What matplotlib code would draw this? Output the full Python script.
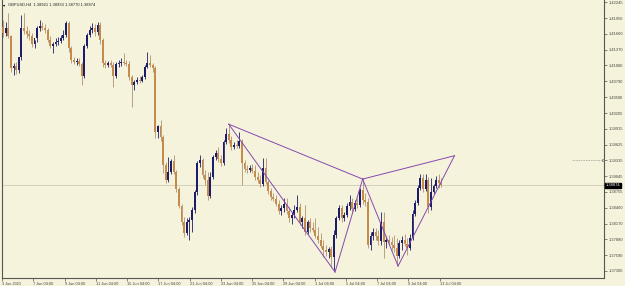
import matplotlib
matplotlib.use("Agg")
import matplotlib.pyplot as plt
import numpy as np

plt.rcParams['font.family'] = ['Liberation Sans', 'DejaVu Sans']

# ---------------- data (GBPUSD, H4) ----------------
opens = [1.4179,1.4168,1.4177,1.4162,1.4103,1.4107,1.4100,1.4124,1.4177,1.4171,
         1.4166,1.4162,1.4148,1.4159,1.4177,1.4181,1.4177,1.4173,1.4155,1.4144,
         1.4148,1.4151,1.4153,1.4159,1.4164,1.4186,1.4140,1.4118,1.4114,1.4116,
         1.4111,1.4089,1.4144,1.4164,1.4173,1.4177,1.4170,1.4182,1.4155,1.4113,
         1.4109,1.4113,1.4109,1.4089,1.4111,1.4113,1.4114,1.4113,1.4111,1.4087,
         1.4072,1.4078,1.4081,1.4079,1.4087,1.4105,1.4113,1.4109,1.4103,1.3986,
         1.3997,1.3976,1.3925,1.3897,1.3912,1.3932,1.3912,1.3881,1.3850,1.3820,
         1.3800,1.3820,1.3824,1.3842,1.3875,1.3929,1.3934,1.3907,1.3897,1.3868,
         1.3903,1.3940,1.3947,1.3936,1.3929,1.3967,1.3982,1.3971,1.3958,1.3962,
         1.3960,1.3969,1.3929,1.3918,1.3916,1.3920,1.3914,1.3903,1.3897,1.3890,
         1.3920,1.3894,1.3877,1.3866,1.3862,1.3853,1.3840,1.3846,1.3853,1.3840,
         1.3827,1.3833,1.3842,1.3848,1.3820,1.3827,1.3802,1.3820,1.3809,1.3805,
         1.3794,1.3787,1.3776,1.3769,1.3765,1.3770,1.3756,1.3796,1.3827,1.3846,
         1.3827,1.3833,1.3850,1.3857,1.3844,1.3855,1.3851,1.3879,1.3861,1.3857,
         1.3778,1.3794,1.3802,1.3794,1.3785,1.3820,1.3783,1.3787,1.3783,1.3778,
         1.3772,1.3758,1.3781,1.3787,1.3780,1.3772,1.3791,1.3835,1.3855,1.3883,
         1.3901,1.3881,1.3897,1.3848,1.3875,1.3886,1.3897,1.3892]
highs = [1.4192,1.4188,1.4205,1.4164,1.4113,1.4114,1.4118,1.4201,1.4205,1.4181,
         1.4173,1.4168,1.4155,1.4181,1.4192,1.4188,1.4184,1.4177,1.4162,1.4151,
         1.4159,1.4160,1.4164,1.4173,1.4190,1.4190,1.4144,1.4124,1.4122,1.4122,
         1.4114,1.4148,1.4168,1.4181,1.4186,1.4184,1.4188,1.4188,1.4159,1.4118,
         1.4116,1.4118,1.4114,1.4114,1.4118,1.4122,1.4131,1.4118,1.4116,1.4090,
         1.4081,1.4087,1.4089,1.4090,1.4109,1.4133,1.4127,1.4113,1.4107,1.3999,
         1.4008,1.3980,1.3931,1.3940,1.3936,1.3943,1.3916,1.3884,1.3853,1.3829,
         1.3827,1.3829,1.3848,1.3879,1.3932,1.3943,1.3938,1.3916,1.3912,1.3912,
         1.3943,1.3953,1.3958,1.3943,1.3971,1.3993,1.4000,1.3978,1.3967,1.3971,
         1.3986,1.3973,1.3934,1.3925,1.3925,1.3927,1.3925,1.3912,1.3907,1.3938,
         1.3938,1.3897,1.3883,1.3873,1.3870,1.3861,1.3851,1.3864,1.3864,1.3848,
         1.3838,1.3851,1.3870,1.3855,1.3831,1.3851,1.3824,1.3827,1.3820,1.3827,
         1.3811,1.3800,1.3787,1.3778,1.3774,1.3776,1.3805,1.3831,1.3851,1.3851,
         1.3838,1.3855,1.3870,1.3864,1.3861,1.3864,1.3883,1.3901,1.3873,1.3864,
         1.3802,1.3809,1.3809,1.3805,1.3838,1.3838,1.3794,1.3796,1.3792,1.3796,
         1.3791,1.3787,1.3794,1.3798,1.3791,1.3798,1.3842,1.3861,1.3888,1.3908,
         1.3908,1.3908,1.3903,1.3901,1.3890,1.3905,1.3908,1.3901]
lows = [1.4160,1.4162,1.4159,1.4096,1.4090,1.4092,1.4094,1.4118,1.4166,1.4159,
        1.4155,1.4142,1.4140,1.4151,1.4171,1.4173,1.4168,1.4151,1.4140,1.4131,
        1.4144,1.4146,1.4149,1.4155,1.4160,1.4133,1.4113,1.4111,1.4109,1.4107,
        1.4072,1.4085,1.4140,1.4160,1.4168,1.4162,1.4164,1.4148,1.4105,1.4103,
        1.4105,1.4105,1.4068,1.4085,1.4105,1.4107,1.4109,1.4107,1.4081,1.4032,
        1.4063,1.4074,1.4076,1.4078,1.4083,1.4103,1.4105,1.4096,1.3975,1.3975,
        1.3969,1.3910,1.3892,1.3894,1.3908,1.3908,1.3875,1.3846,1.3815,1.3792,
        1.3796,1.3787,1.3802,1.3837,1.3870,1.3921,1.3901,1.3888,1.3861,1.3864,
        1.3899,1.3934,1.3931,1.3923,1.3925,1.3964,1.3965,1.3953,1.3954,1.3956,
        1.3956,1.3888,1.3912,1.3910,1.3912,1.3910,1.3897,1.3892,1.3884,1.3886,
        1.3890,1.3872,1.3861,1.3859,1.3850,1.3835,1.3833,1.3838,1.3835,1.3820,
        1.3816,1.3827,1.3838,1.3815,1.3809,1.3796,1.3798,1.3802,1.3802,1.3791,
        1.3781,1.3772,1.3756,1.3758,1.3754,1.3737,1.3732,1.3791,1.3824,1.3820,
        1.3822,1.3829,1.3842,1.3838,1.3840,1.3846,1.3848,1.3853,1.3850,1.3772,
        1.3769,1.3787,1.3787,1.3778,1.3778,1.3754,1.3772,1.3778,1.3769,1.3765,
        1.3741,1.3754,1.3769,1.3776,1.3759,1.3769,1.3787,1.3831,1.3851,1.3879,
        1.3875,1.3877,1.3837,1.3842,1.3872,1.3883,1.3883,1.3884]
closes = [1.4168,1.4177,1.4162,1.4103,1.4107,1.4100,1.4124,1.4177,1.4171,1.4166,
          1.4162,1.4148,1.4159,1.4177,1.4181,1.4177,1.4173,1.4155,1.4144,1.4148,
          1.4151,1.4153,1.4159,1.4164,1.4186,1.4140,1.4118,1.4114,1.4116,1.4111,
          1.4089,1.4144,1.4164,1.4173,1.4177,1.4170,1.4182,1.4155,1.4113,1.4109,
          1.4113,1.4109,1.4089,1.4111,1.4113,1.4114,1.4113,1.4111,1.4087,1.4072,
          1.4078,1.4081,1.4079,1.4087,1.4105,1.4113,1.4109,1.4103,1.3986,1.3997,
          1.3976,1.3925,1.3897,1.3912,1.3932,1.3912,1.3881,1.3850,1.3820,1.3800,
          1.3820,1.3824,1.3842,1.3875,1.3929,1.3934,1.3907,1.3897,1.3868,1.3903,
          1.3940,1.3947,1.3936,1.3929,1.3967,1.3982,1.3971,1.3958,1.3962,1.3960,
          1.3969,1.3929,1.3918,1.3916,1.3920,1.3914,1.3903,1.3897,1.3890,1.3920,
          1.3894,1.3877,1.3866,1.3862,1.3853,1.3840,1.3846,1.3853,1.3840,1.3827,
          1.3833,1.3842,1.3848,1.3820,1.3827,1.3802,1.3820,1.3809,1.3805,1.3794,
          1.3787,1.3776,1.3769,1.3765,1.3770,1.3756,1.3796,1.3827,1.3846,1.3827,
          1.3833,1.3850,1.3857,1.3844,1.3855,1.3851,1.3879,1.3861,1.3857,1.3778,
          1.3794,1.3802,1.3794,1.3785,1.3820,1.3783,1.3787,1.3783,1.3778,1.3772,
          1.3758,1.3781,1.3787,1.3780,1.3772,1.3791,1.3835,1.3855,1.3883,1.3901,
          1.3881,1.3897,1.3848,1.3875,1.3886,1.3897,1.3892,1.38874]

# pattern pivot points: bar index, price
pattern_idx = [86, 126.5, 137, 150.5, 172]
pattern_px = [1.4000, 1.3728, 1.3899, 1.3739, 1.3942]

price_ticks = [1.42245, 1.41950, 1.41660, 1.41370, 1.41080, 1.40790, 1.40500,
               1.40205, 1.39915, 1.39625, 1.39335, 1.39045, 1.38755, 1.38460,
               1.38170, 1.37880, 1.37590, 1.37300]
time_labels = ["3 Jun 2021", "7 Jun 04:00", "9 Jun 04:00", "11 Jun 04:00",
               "15 Jun 04:00", "17 Jun 04:00", "21 Jun 04:00", "23 Jun 04:00",
               "25 Jun 04:00", "29 Jun 04:00", "1 Jul 04:00", "5 Jul 04:00",
               "7 Jul 04:00", "9 Jul 04:00", "13 Jul 04:00"]
header = "GBPUSD,H4  1.38921 1.38933 1.38770 1.38874"
bid = 1.38874
stop_level = 1.39335

# ---------------- drawing ----------------
BG = "#f6f3dc"
BULL = "#1c1c6a"
BEAR = "#c58b4c"
PURPLE = "#8449b0"

W, H = 625, 286
fig = plt.figure(figsize=(W / 100, H / 100), dpi=100)
fig.patch.set_facecolor(BG)
ax = fig.add_axes([2 / W, 1 - 278 / H, 602 / W, 278 / H])
ax.set_facecolor(BG)

n = len(closes)
x = np.arange(n)
o = np.array(opens); h = np.array(highs); l = np.array(lows); c = np.array(closes)
up = c >= o

ax.vlines(x[up], l[up], h[up], color=BULL, lw=0.6, zorder=2)
ax.vlines(x[~up], l[~up], h[~up], color="#b09070", lw=0.6, zorder=2)
bot = np.minimum(o, c)
hgt = np.maximum(np.abs(c - o), 0.00008)
ax.bar(x[up], hgt[up], bottom=bot[up], width=0.72, color=BULL, lw=0, zorder=3)
ax.bar(x[~up], hgt[~up], bottom=bot[~up], width=0.72, color=BEAR, lw=0, zorder=3)

# bid line
ax.axhline(bid, color="#cdcab6", lw=0.6, zorder=1)

# harmonic pattern lines
P = list(zip(pattern_idx, pattern_px))
segs = [(0, 1), (1, 2), (2, 3), (3, 4), (0, 2), (2, 4)]
for a, b in segs:
    ax.plot([P[a][0], P[b][0]], [P[a][1], P[b][1]], color=PURPLE, lw=0.7, zorder=4)

x0, x1 = (2 - 3) / 2.625, (604 - 3) / 2.625
ax.set_xlim(x0, x1)
y_top = 1.42285
y_bot = 1.42285 - 0.000184 * 278
ax.set_ylim(y_bot, y_top)

# stop level dotted line near right edge
ax.plot([x1 - 32 / 2.625, x1 - 1.5 / 2.625], [stop_level, stop_level],
        color="#9a9a90", lw=0.6, ls=(0, (1, 1)), zorder=4)
ax.plot([x1 - 1.5 / 2.625], [stop_level], marker="s", ms=1.6, mfc="none",
        mec="#777770", mew=0.5, zorder=5, clip_on=False)

ax.spines["top"].set_visible(False)
for s in ["left", "right", "bottom"]:
    ax.spines[s].set_color("#555555")
    ax.spines[s].set_linewidth(0.8)

ax.yaxis.tick_right()
ax.set_yticks(price_ticks)
ax.set_yticklabels([f"{v:.5f}" for v in price_ticks])
ax.tick_params(axis="y", length=2, width=0.5, colors="#555555", labelsize=2.9,
               pad=1.2, labelcolor="#444444")

tick_pos = [11.905 * k - 0.38 for k in range(len(time_labels))]
ax.set_xticks(tick_pos)
ax.set_xticklabels([])
ax.tick_params(axis="x", length=2, width=0.5, colors="#555555", direction="out")
for pos, lab in zip(tick_pos, time_labels):
    ax.text(pos, -0.013, lab, transform=ax.get_xaxis_transform(), ha="left",
            va="top", fontsize=2.8, color="#444444", clip_on=False)

# current price highlight
ax.text(1.003, bid, f"{bid:.5f}", transform=ax.get_yaxis_transform(),
        ha="left", va="center", fontsize=2.9, color="white",
        bbox=dict(boxstyle="square,pad=0.2", fc="black", ec="black"),
        clip_on=False, zorder=10)

# header
fig.text(3 / W, 1 - 5 / H, "\u25be", fontsize=3.2, ha="left", va="center", color="black")
fig.text(8 / W, 1 - 5 / H, header, fontsize=2.9, ha="left", va="center", color="#222222")

fig.savefig("out.png", dpi=100, facecolor=BG)
